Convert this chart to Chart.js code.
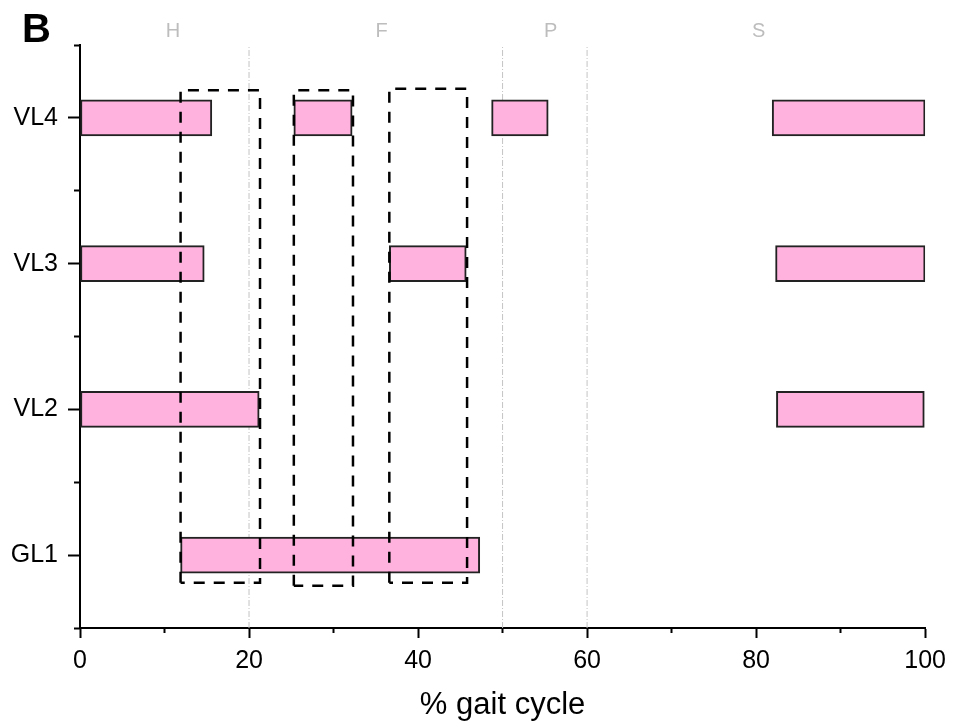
<!DOCTYPE html>
<html>
<head>
<meta charset="utf-8">
<script src="https://cdn.jsdelivr.net/npm/chart.js@4.4.1/dist/chart.umd.min.js"></script>
<style>
  html, body { margin: 0; padding: 0; background: #fff; }
  #wrap { position: relative; width: 954px; height: 724px; }
  #panel {
    position: absolute; left: 22px; top: 8px;
    font: bold 40px 'Liberation Sans', Arial, sans-serif;
    line-height: 40px; color: #000;
  }
</style>
</head>
<body>
<div id="wrap">
  <canvas id="chart" width="954" height="724"></canvas>
  <div id="panel">B</div>
</div>
<script>
// muscles on the y axis, bottom to top
const muscles = ['GL1', 'VL2', 'VL3', 'VL4'];

// active periods (% gait cycle), one array per muscle
const gl1On = [[11.9, 47.3]];
const vl2On = [[0, 21.2], [82.4, 99.9]];
const vl3On = [[0, 14.7], [36.6, 45.7], [82.3, 100]];
const vl4On = [[0, 15.6], [25.3, 32.2], [48.7, 55.4], [81.9, 100]];

// dashed boxes
const boxLeft = [11.9, 25.3, 36.6];
const boxRight = [21.3, 32.3, 45.8];
const boxBottom = [0.81, 0.79, 0.81];
const boxTop = [4.19, 4.19, 4.2];

// phases
const phaseBounds = [20, 50, 60];
const phaseNames = ['H', 'F', 'P', 'S'];
const phaseCenters = [11, 35.7, 55.7, 80.3];

const xTicks = [0, 20, 40, 60, 80, 100];
const xMinorTicks = [10, 30, 50, 70, 90];
const yTicks = [1, 2, 3, 4];
const yMinorTicks = [0.5, 1.5, 2.5, 3.5, 4.5];

const FONT = "'Liberation Sans', Arial, sans-serif";

const onsets = [gl1On, vl2On, vl3On, vl4On];
const barData = [];
onsets.forEach((segs, i) => segs.forEach(s => barData.push({ y: yTicks[i], x: s })));

const boxSets = boxLeft.map((x0, i) => ({
  type: 'line',
  data: [
    { x: x0, y: boxBottom[i] }, { x: x0, y: boxTop[i] },
    { x: boxRight[i], y: boxTop[i] }, { x: boxRight[i], y: boxBottom[i] },
    { x: x0, y: boxBottom[i] }
  ],
  borderColor: '#000',
  borderWidth: 2.5,
  borderDash: [11, 9],
  pointRadius: 0,
  fill: false,
  tension: 0,
}));

const phaseSets = phaseBounds.map(v => ({
  type: 'line',
  data: [{ x: v, y: 0.5 }, { x: v, y: 4.5 }],
  borderColor: '#c4c4c4',
  borderWidth: 1,
  borderDash: [6, 2, 1, 2],
  pointRadius: 0,
  fill: false,
}));

const setTicks = vals => s => { s.ticks = vals.map(v => ({ value: v })); };

new Chart(document.getElementById('chart'), {
  type: 'bar',
  data: {
    datasets: [
      ...boxSets,
      {
        type: 'bar',
        indexAxis: 'y',
        data: barData,
        backgroundColor: '#ffb2de',
        borderColor: '#222',
        borderWidth: 2,
        borderSkipped: false,
        barThickness: 36,
      },
      ...phaseSets,
    ],
  },
  options: {
    responsive: false,
    animation: false,
    events: [],
    layout: { padding: { left: 0, right: 28, top: 0, bottom: 0 } },
    plugins: { legend: { display: false }, tooltip: { enabled: false } },
    scales: {
      x: {
        type: 'linear', position: 'bottom', min: 0, max: 100, offset: false, weight: 1,
        afterBuildTicks: setTicks(xTicks),
        afterFit: s => { s.height = 96; },
        grid: { offset: false, drawOnChartArea: false, tickLength: 10, tickColor: '#000', tickWidth: 2 },
        border: { display: true, color: '#000', width: 2 },
        ticks: { color: '#000', font: { family: FONT, size: 25 }, padding: 8, maxRotation: 0, autoSkip: false },
        title: { display: true, text: '% gait cycle', color: '#000', font: { family: FONT, size: 31 }, padding: { top: 0, bottom: 0 } },
      },
      xMinor: {
        type: 'linear', position: 'bottom', min: 0, max: 100, offset: false, weight: 0,
        afterBuildTicks: setTicks(xMinorTicks),
        afterFit: s => { s.height = 0; },
        grid: { offset: false, drawOnChartArea: false, tickLength: 5, tickColor: '#000', tickWidth: 2 },
        border: { display: false },
        ticks: { display: false },
      },
      phase: {
        type: 'linear', position: 'top', min: 0, max: 100, offset: false,
        afterBuildTicks: setTicks(phaseCenters),
        afterFit: s => { s.height = 45; },
        grid: { display: false, drawTicks: false },
        border: { display: false },
        ticks: { color: '#bdbdbd', font: { family: FONT, size: 20 }, padding: 2, maxRotation: 0, autoSkip: false,
                 callback: (v, i) => phaseNames[i] },
      },
      y: {
        type: 'linear', position: 'left', min: 0.5, max: 4.5, offset: false, weight: 1,
        afterBuildTicks: setTicks(yTicks),
        afterFit: s => { s.width = 80; },
        grid: { offset: false, drawOnChartArea: false, tickLength: 12, tickColor: '#000', tickWidth: 2 },
        border: { display: true, color: '#000', width: 2 },
        ticks: { color: '#000', font: { family: FONT, size: 25 }, padding: 10,
                 callback: v => muscles[yTicks.indexOf(v)] },
      },
      yMinor: {
        type: 'linear', position: 'left', min: 0.5, max: 4.5, offset: false, weight: 0,
        afterBuildTicks: setTicks(yMinorTicks),
        afterFit: s => { s.width = 0; },
        grid: { offset: false, drawOnChartArea: false, tickLength: 6, tickColor: '#000', tickWidth: 2 },
        border: { display: false },
        ticks: { display: false },
      },
    },
  },
});
</script>
</body>
</html>
